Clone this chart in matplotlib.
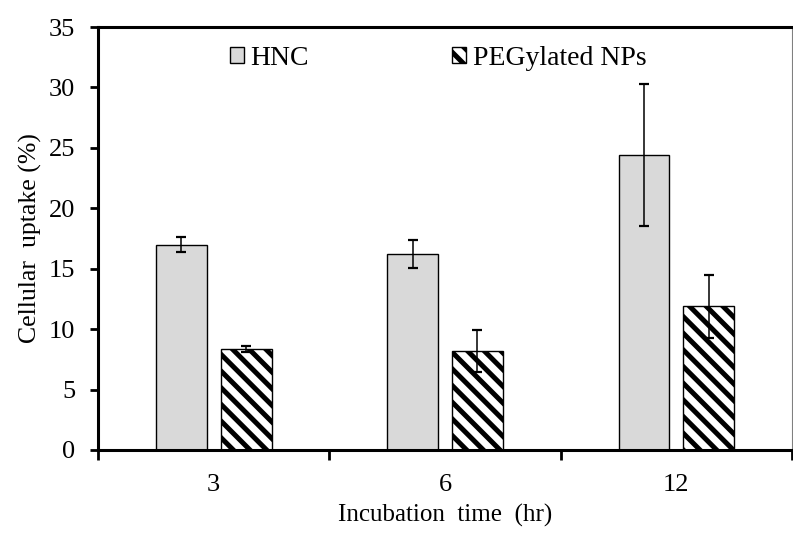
import matplotlib
matplotlib.use("Agg")
import matplotlib.pyplot as plt
import numpy as np
from matplotlib.ticker import FixedLocator

plt.rcParams['font.family'] = ['Liberation Serif', 'DejaVu Serif']
plt.rcParams['hatch.linewidth'] = 3.6

# Cellular uptake data
times = ["3", "6", "12"]
series_names = ["HNC", "PEGylated NPs"]
hnc_mean = [17.0, 16.2, 24.4]
hnc_err = [0.65, 1.15, 5.9]
peg_mean = [8.35, 8.2, 11.9]
peg_err = [0.25, 1.75, 2.6]
y_ticks = [0, 5, 10, 15, 20, 25, 30, 35]

fig = plt.figure(figsize=(7.93, 5.39), dpi=100)
ax = fig.add_axes([98 / 793, 89 / 539, 694 / 793, 423 / 539])

x = np.arange(len(times))
width = 0.22
offset = 0.14

ax.bar(x - offset, hnc_mean, width, color="#d9d9d9", edgecolor="black",
       linewidth=1.0, label=series_names[0], zorder=2)
ax.bar(x + offset, peg_mean, width, color="white", edgecolor="black",
       linewidth=1.0, hatch="\\\\", label=series_names[1], zorder=2)

ax.errorbar(x - offset, hnc_mean, yerr=hnc_err, fmt="none", ecolor="black",
            elinewidth=1.1, capsize=3.8, capthick=1.6, zorder=3)
ax.errorbar(x + offset, peg_mean, yerr=peg_err, fmt="none", ecolor="black",
            elinewidth=1.1, capsize=3.8, capthick=1.6, zorder=3)

ax.set_xlim(-0.5, len(times) - 0.5)
ax.set_ylim(0, 35)
ax.set_yticks(y_ticks)
ax.set_xticks(x)
ax.set_xticklabels(times)
ax.xaxis.set_minor_locator(FixedLocator(np.arange(-0.5, len(times), 1.0)))

ax.tick_params(axis="x", which="major", length=0, pad=17, labelsize=19)
ax.tick_params(axis="x", which="minor", length=7, width=2, direction="out")
ax.tick_params(axis="y", which="major", length=6, width=2, direction="out",
               pad=10.5, labelsize=19)

for side in ("left", "bottom", "top"):
    ax.spines[side].set_linewidth(2.2)
    ax.spines[side].set_color("black")
ax.spines["right"].set_linewidth(0.8)
ax.spines["right"].set_color("#808080")

ax.set_ylabel("Cellular  uptake (%)", fontsize=18.5, labelpad=5)
ax.set_xlabel("Incubation  time  (hr)", fontsize=18, labelpad=6)

leg = ax.legend(loc="center left", bbox_to_anchor=(0.19, 0.925), ncol=2,
                frameon=False, fontsize=20, handlelength=0.5,
                handleheight=0.5, handletextpad=0.25, columnspacing=5.15,
                borderpad=0, borderaxespad=0)

fig.savefig("out.png", dpi=100)
